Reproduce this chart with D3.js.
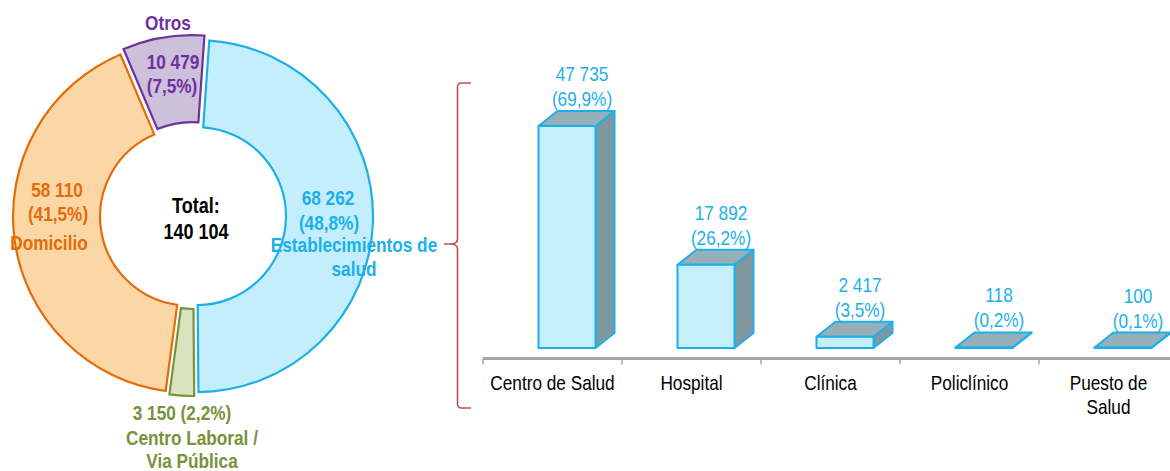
<!DOCTYPE html>
<html>
<head>
<meta charset="utf-8">
<script src="https://cdn.jsdelivr.net/npm/d3@7"></script>
<style>
  html, body { margin: 0; padding: 0; background: #ffffff; }
  svg { display: block; }
  text { font-family: "Liberation Sans", Arial, sans-serif; }
</style>
</head>
<body>
<svg id="chart" width="1170" height="471"></svg>
<script>
// ---------- Data ----------
const donutCategories = ["Establecimientos de salud", "Centro Laboral / Via Pública", "Domicilio", "Otros"];
const donutValues = [68262, 3150, 58110, 10479];
const donutPercents = ["48,8%", "2,2%", "41,5%", "7,5%"];
const donutTotal = "140 104";

const barCategories = ["Centro de Salud", "Hospital", "Clínica", "Policlínico", "Puesto de Salud"];
const barValues = [47735, 17892, 2417, 118, 100];
const barValueLabels = ["47 735", "17 892", "2 417", "118", "100"];
const barPercents = ["69,9%", "26,2%", "3,5%", "0,2%", "0,1%"];

// ---------- Styles ----------
const donutFill = ["#C5EEFC", "#D7E4BD", "#FBD7A5", "#CCC0DA"];
const donutStroke = ["#1CB0EA", "#77933C", "#E46C0A", "#7030A0"];
const cyan = "#1CB0EA";

const svg = d3.select("#chart");
const NARROW = 0.82;

function ntext(parent, x, y, str, opts = {}) {
  return parent.append("text")
    .attr("transform", `translate(${x},${y}) scale(${NARROW},1)`)
    .attr("text-anchor", opts.anchor || "middle")
    .attr("font-size", opts.size || 21)
    .attr("font-weight", opts.weight || "normal")
    .attr("fill", opts.fill || "#000")
    .text(str);
}

// ---------- Donut ----------
const cx = 193, cy = 216, rOuter = 176, rInner = 89;
const startA = 4 * Math.PI / 180;
const pie = d3.pie().sort(null).value(d => d).startAngle(startA).endAngle(startA + 2 * Math.PI);
const arcs = pie(donutValues);
const arcGen = d3.arc().innerRadius(rInner).outerRadius(rOuter);
const explode = [4, 4, 4, 5];

const donut = svg.append("g").attr("transform", `translate(${cx},${cy})`);
donut.selectAll("path.slice")
  .data(arcs)
  .join("path")
  .attr("class", "slice")
  .attr("d", arcGen)
  .attr("transform", (d, i) => {
    const m = (d.startAngle + d.endAngle) / 2;
    return `translate(${Math.sin(m) * explode[i]},${-Math.cos(m) * explode[i]})`;
  })
  .attr("fill", (d, i) => donutFill[i])
  .attr("stroke", (d, i) => donutStroke[i])
  .attr("stroke-width", 2.2)
  .attr("stroke-linejoin", "miter");

// Donut labels
const lbl = svg.append("g");
// Otros
ntext(lbl, 168, 30, "Otros", { weight: "bold", fill: donutStroke[3] });
ntext(lbl, 173, 69, "10 479", { weight: "bold", fill: donutStroke[3] });
ntext(lbl, 172, 93, "(" + donutPercents[3] + ")", { weight: "bold", fill: donutStroke[3] });
// Domicilio
ntext(lbl, 57, 197, "58 110", { weight: "bold", fill: donutStroke[2] });
ntext(lbl, 58, 221, "(" + donutPercents[2] + ")", { weight: "bold", fill: donutStroke[2] });
ntext(lbl, 49, 250, "Domicilio", { weight: "bold", fill: donutStroke[2] });
// Total
ntext(lbl, 196, 213, "Total:", { weight: "bold", size: 22 });
ntext(lbl, 196, 239, donutTotal, { weight: "bold", size: 22 });
// Establecimientos
ntext(lbl, 328, 205, "68 262", { weight: "bold", fill: cyan });
ntext(lbl, 329, 230, "(" + donutPercents[0] + ")", { weight: "bold", fill: cyan });
ntext(lbl, 354, 252, "Establecimientos de", { weight: "bold", fill: cyan });
ntext(lbl, 354, 276, "salud", { weight: "bold", fill: cyan });
// Centro laboral
ntext(lbl, 182, 420, "3 150 (" + donutPercents[1] + ")", { weight: "bold", fill: donutStroke[1] });
ntext(lbl, 192, 445, "Centro Laboral /", { weight: "bold", fill: donutStroke[1] });
ntext(lbl, 192, 468, "Via Pública", { weight: "bold", fill: donutStroke[1] });

// ---------- Bracket ----------
const bx = 457.5, btop = 83, bbot = 408, bmid = 244, btip = 444, bend = 471;
svg.append("path")
  .attr("d", `M${bend},${btop} L${bx + 4},${btop} Q${bx},${btop} ${bx},${btop + 4}
              L${bx},${bmid - 5} Q${bx},${bmid} ${btip + 6},${bmid} L${btip},${bmid}
              M${btip + 6},${bmid} Q${bx},${bmid} ${bx},${bmid + 5}
              L${bx},${bbot - 4} Q${bx},${bbot} ${bx + 4},${bbot} L${bend},${bbot}`)
  .attr("fill", "none")
  .attr("stroke", "#C0504D")
  .attr("stroke-width", 1.6);

// ---------- Bar chart ----------
const bandW = 139;
const x = d3.scaleBand().domain(barCategories).range([483, 483 + bandW * barCategories.length]).padding(0);
const yBase = 348;
const y = d3.scaleLinear().domain([0, 47735]).range([yBase, 126]);
const axisY = 358.5;

// axis line
svg.append("line")
  .attr("x1", 483).attr("x2", 1170)
  .attr("y1", axisY).attr("y2", axisY)
  .attr("stroke", "#A6A6A6").attr("stroke-width", 3);
// ticks at band boundaries
const boundaries = barCategories.map(c => x(c));
svg.selectAll("line.tick")
  .data(boundaries)
  .join("line")
  .attr("class", "tick")
  .attr("x1", d => d).attr("x2", d => d)
  .attr("y1", axisY).attr("y2", axisY + 6)
  .attr("stroke", "#A6A6A6").attr("stroke-width", 1.5);

// category labels
const catG = svg.append("g");
barCategories.forEach(c => {
  const cxp = x(c) + x.bandwidth() / 2;
  if (c === "Puesto de Salud") {
    ntext(catG, cxp, 390, "Puesto de");
    ntext(catG, cxp, 414, "Salud");
  } else {
    ntext(catG, cxp, 390, c);
  }
});

// 3D bars
const frontOff = 55.5, frontW = 57, dx = 19, dy = -15;
const barsG = svg.append("g");
barCategories.forEach((c, i) => {
  const x0 = x(c) + frontOff, x1 = x0 + frontW;
  const yt = y(barValues[i]);
  const g = barsG.append("g")
    .attr("stroke", cyan).attr("stroke-width", 2).attr("stroke-linejoin", "round");
  // side
  g.append("polygon")
    .attr("points", [[x1, yBase], [x1 + dx, yBase + dy], [x1 + dx, yt + dy], [x1, yt]].map(p => p.join(",")).join(" "))
    .attr("fill", "#7F989F");
  // top
  g.append("polygon")
    .attr("points", [[x0, yt], [x0 + dx, yt + dy], [x1 + dx, yt + dy], [x1, yt]].map(p => p.join(",")).join(" "))
    .attr("fill", "#95B0B8");
  // front
  g.append("rect")
    .attr("x", x0).attr("y", yt)
    .attr("width", frontW).attr("height", Math.max(0, yBase - yt))
    .attr("fill", "#C6EFFC");
  // labels
  const lx = x(c) + 99;
  const lb = yt + dy - 5;
  ntext(barsG, lx, lb - 25, barValueLabels[i], { fill: cyan });
  ntext(barsG, lx, lb, "(" + barPercents[i] + ")", { fill: cyan });
});
</script>
</body>
</html>
